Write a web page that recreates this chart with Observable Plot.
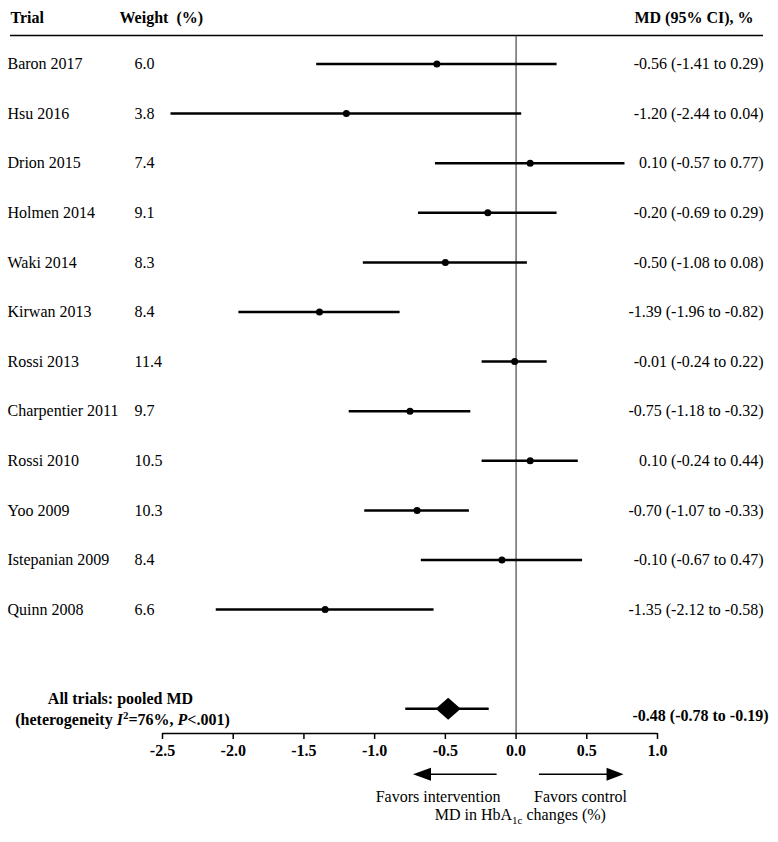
<!DOCTYPE html>
<html>
<head>
<meta charset="utf-8">
<script src="https://cdn.jsdelivr.net/npm/d3@7"></script>
<script src="https://cdn.jsdelivr.net/npm/@observablehq/plot@0.6"></script>
<style>
  html, body { margin: 0; padding: 0; background: #fff; }
  #chart svg { display: block; }
</style>
</head>
<body>
<div id="chart"></div>
<script>
// ---- data ----
const trials = ["Baron 2017", "Hsu 2016", "Drion 2015", "Holmen 2014", "Waki 2014", "Kirwan 2013",
  "Rossi 2013", "Charpentier 2011", "Rossi 2010", "Yoo 2009", "Istepanian 2009", "Quinn 2008"];
const weights = [6.0, 3.8, 7.4, 9.1, 8.3, 8.4, 11.4, 9.7, 10.5, 10.3, 8.4, 6.6];
const md = [-0.56, -1.20, 0.10, -0.20, -0.50, -1.39, -0.01, -0.75, 0.10, -0.70, -0.10, -1.35];
const lo = [-1.41, -2.44, -0.57, -0.69, -1.08, -1.96, -0.24, -1.18, -0.24, -1.07, -0.67, -2.12];
const hi = [0.29, 0.04, 0.77, 0.29, 0.08, -0.82, 0.22, -0.32, 0.44, -0.33, 0.47, -0.58];
const pooledMd = -0.48, pooledLo = -0.78, pooledHi = -0.19;
const xTicks = [-2.5, -2.0, -1.5, -1.0, -0.5, 0.0, 0.5, 1.0];

const f2 = v => v.toFixed(2);
const rows = trials.map((t, i) => ({
  trial: t, row: i, weight: weights[i].toFixed(1), md: md[i], lo: lo[i], hi: hi[i],
  ci: `${f2(md[i])} (${f2(lo[i])} to ${f2(hi[i])})`
}));
const pooledRow = trials.length + 1;
const pooled = [{row: pooledRow, md: pooledMd, lo: pooledLo, hi: pooledHi,
  ci: `${f2(pooledMd)} (${f2(pooledLo)} to ${f2(pooledHi)})`}];

const heteroLabel = "(heterogeneity I2=76%, P<.001)";
const xLabel = "MD in HbA1c changes (%)";

// custom symbols
const headLeft = {draw(c) { c.moveTo(0, 0); c.lineTo(18, -6.5); c.lineTo(18, 6.5); c.closePath(); }};
const headRight = {draw(c) { c.moveTo(0, 0); c.lineTo(-17, -6.5); c.lineTo(-17, 6.5); c.closePath(); }};
const diamond = {draw(c) { c.moveTo(0, -11); c.lineTo(12.5, 0); c.lineTo(0, 11); c.lineTo(-12.5, 0); c.closePath(); }};

const font = "Liberation Serif, Times New Roman, serif";
const arrowRow = 14.32;

const plot = Plot.plot({
  width: 778,
  height: 842,
  marginLeft: 162,
  marginRight: 121,
  marginTop: 0,
  marginBottom: 109,
  style: {fontFamily: font, fontSize: "16px", color: "black", background: "white"},
  x: {domain: [-2.5, 1.0]},
  y: {domain: [0, 13], range: [63.5, 708.3], axis: null},
  marks: [
    // header
    Plot.text(["Trial"], {y: () => -0.92, frameAnchor: "left", dx: -152, textAnchor: "start", fontWeight: "bold", fontSize: 16}),
    Plot.text(["Weight\u00a0\u00a0(%)"], {y: () => -0.92, frameAnchor: "left", dx: -43, textAnchor: "start", fontWeight: "bold", fontSize: 16}),
    Plot.text(["MD (95% CI), %"], {y: () => -0.92, frameAnchor: "right", dx: 96, textAnchor: "end", fontWeight: "bold", fontSize: 16}),
    Plot.ruleY([-0.575], {insetLeft: -152, insetRight: -106, stroke: "black", strokeWidth: 1.5}),
    // zero line
    Plot.ruleX([0], {y1: -0.575, y2: 13.5, stroke: "#222", strokeWidth: 1}),
    // trials
    Plot.text(rows, {y: "row", text: "trial", frameAnchor: "left", dx: -155, textAnchor: "start", fontSize: 16}),
    Plot.text(rows, {y: "row", text: "weight", frameAnchor: "left", dx: -28, textAnchor: "start", fontSize: 16}),
    Plot.text(rows, {y: "row", text: "ci", frameAnchor: "right", dx: 106, textAnchor: "end", fontSize: 16}),
    Plot.ruleY(rows, {y: "row", x1: "lo", x2: "hi", stroke: "black", strokeWidth: 2.5}),
    Plot.dot(rows, {y: "row", x: "md", r: 3.5, fill: "black"}),
    // pooled
    Plot.ruleY(pooled, {y: "row", x1: "lo", x2: "hi", stroke: "black", strokeWidth: 2.5}),
    Plot.dot(pooled, {y: "row", x: "md", symbol: diamond, fill: "black"}),
    Plot.text(pooled, {y: "row", text: "ci", frameAnchor: "right", dx: 111, dy: 7, textAnchor: "end", fontWeight: "bold", fontSize: 16}),
    Plot.text(["All trials: pooled MD"], {y: () => pooledRow, frameAnchor: "left", dx: -42, dy: -10, textAnchor: "middle", fontWeight: "bold", fontSize: 16}),
    Plot.text([heteroLabel], {y: () => pooledRow, frameAnchor: "left", dx: -40, dy: 11, textAnchor: "middle", fontWeight: "bold", fontSize: 16}),
    // axis
    Plot.ruleY([13.5], {x1: xTicks[0], x2: xTicks[xTicks.length - 1], stroke: "black", strokeWidth: 1.5}),
    Plot.axisX(xTicks, {anchor: "bottom", tickSize: 6, tickPadding: 5, tickFormat: d => d.toFixed(1),
      fontWeight: "bold", fontSize: 16, strokeWidth: 1.5, label: null}),
    // direction arrows
    Plot.ruleY([arrowRow], {x1: -0.62, x2: -0.134, stroke: "black", strokeWidth: 1.6}),
    Plot.dot([{x: -0.729, y: arrowRow}], {x: "x", y: "y", symbol: headLeft, fill: "black"}),
    Plot.ruleY([arrowRow], {x1: 0.165, x2: 0.66, stroke: "black", strokeWidth: 1.6}),
    Plot.dot([{x: 0.760, y: arrowRow}], {x: "x", y: "y", symbol: headRight, fill: "black"}),
    Plot.text(["Favors intervention"], {x: () => -0.11, frameAnchor: "bottom", dy: 68, textAnchor: "end", fontSize: 16}),
    Plot.text(["Favors control"], {x: () => 0.127, frameAnchor: "bottom", dy: 68, textAnchor: "start", fontSize: 16}),
    Plot.text([xLabel], {x: () => 0.03, frameAnchor: "bottom", dy: 86, textAnchor: "middle", fontSize: 16})
  ]
});

// rich text post-processing
d3.select(plot).selectAll("text").each(function() {
  const t = this.textContent;
  const sel = d3.select(this);
  if (t === heteroLabel) {
    sel.text(null);
    sel.append("tspan").text("(heterogeneity ");
    sel.append("tspan").attr("font-style", "italic").text("I");
    sel.append("tspan").attr("font-size", 11).attr("dy", -6).text("2");
    sel.append("tspan").attr("dy", 6).text("=76%, ");
    sel.append("tspan").attr("font-style", "italic").text("P");
    sel.append("tspan").text("<.001)");
  } else if (t === xLabel) {
    sel.text(null);
    sel.append("tspan").text("MD in HbA");
    sel.append("tspan").attr("font-size", 11).attr("dy", 4).text("1c");
    sel.append("tspan").attr("dy", -4).text(" changes (%)");
  }
});
d3.select(plot).selectAll('g[aria-label="x-axis tick label"] text').attr("font-weight", "bold");

document.getElementById("chart").appendChild(plot);
</script>
</body>
</html>
